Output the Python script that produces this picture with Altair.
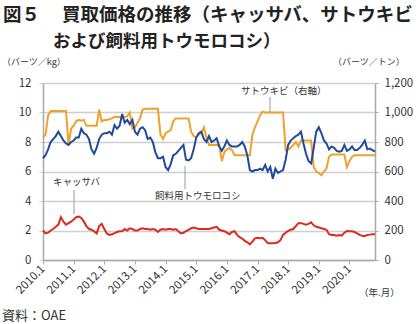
import altair as alt
import pandas as pd

FONT = "Noto Sans CJK JP"

# month categories 2010.1 ... 2020.11
months = [f"{y}.{m}" for y in range(2010, 2021) for m in range(1, 13)][:131]
year_ticks = ["2010.1", "2011.1", "2012.1", "2013.1", "2014.1", "2015.1",
              "2016.1", "2017.1", "2018.1", "2019.1", "2020.1"]

# 飼料用トウモロコシ (バーツ/kg, left axis)
corn = [
    6.9, 7.1, 7.5, 8.0, 8.2, 8.4, 8.7, 8.4, 8.1, 7.9,
    7.8, 8.0, 8.1, 8.3, 8.3, 8.9, 8.6, 8.5, 8.2, 7.5,
    7.2, 7.6, 8.2, 8.5, 8.6, 8.6, 8.7, 8.5, 9.15, 8.9,
    9.1, 9.9, 9.3, 9.5, 9.2, 9.5, 8.7, 8.5, 8.9, 9.0,
    8.8, 8.2, 8.3, 8.0, 7.3, 6.9, 6.9, 7.0, 6.3, 6.1,
    6.5, 7.1, 7.2, 7.4, 7.6, 7.8, 6.8, 6.75, 6.9, 7.5,
    8.3, 8.6, 8.7, 8.2, 8.0, 8.4, 8.0, 8.1, 8.25, 7.7,
    7.4, 7.7, 8.1, 7.8, 7.7, 7.7, 7.7, 7.8, 8.0, 7.7,
    7.1, 6.1, 6.0, 6.1, 6.1, 6.2, 6.1, 6.45, 6.0, 6.3,
    5.5, 6.2, 5.9, 6.0, 6.1, 6.8, 7.8, 8.1, 8.25, 8.4,
    8.5, 8.7, 7.9, 7.2, 6.7, 6.55, 7.6, 8.7, 9.0, 8.6,
    8.1, 7.9, 7.5, 7.7, 7.6, 7.4, 7.35, 7.4, 7.8, 7.4,
    7.5, 7.7, 7.45, 7.45, 7.6, 7.8, 8.1, 7.5, 7.55, 7.45,
    7.35,
]

# サトウキビ (バーツ/トン, right axis)
sugarcane = [
    830, 850, 980, 1010, 1010, 1010, 1010, 1010, 1010, 1010,
    780, 890, 910, 940, 950, 945, 950, 910, 910, 910,
    910, 910, 1020, 940, 950, 950, 955, 960, 970, 970,
    970, 970, 970, 975, 1000, 890, 900, 930, 960, 1020,
    1025, 1025, 1025, 1025, 1025, 1025, 850, 820, 860, 870,
    880, 940, 960, 960, 960, 960, 960, 960, 870, 840,
    830, 850, 860, 900, 830, 780, 780, 780, 780, 780,
    670, 730, 750, 760, 745, 710, 710, 710, 710, 710,
    710, 710, 850, 900, 940, 980, 1005, 1000, 1000, 1000,
    1000, 1000, 1000, 1000, 1000, 745, 750, 760, 780, 800,
    770, 810, 810, 810, 810, 810, 630, 600, 590, 575,
    600, 620, 700, 715, 715, 715, 715, 715, 715, 630,
    670, 700, 710, 710, 710, 710, 710, 710, 710, 710,
    710,
]

# キャッサバ (バーツ/kg, left axis)
cassava = [
    2.0, 1.8, 1.85, 2.0, 2.1, 2.25, 2.4, 2.9, 2.6, 2.4,
    2.5, 2.6, 2.75, 2.9, 2.95, 2.85, 2.6, 2.3, 2.1, 2.05,
    1.95, 1.8, 2.3, 2.45, 2.1, 1.8, 1.7, 1.75, 1.82, 1.9,
    1.95, 1.95, 2.1, 2.0, 2.15, 2.1, 2.0, 2.0, 2.1, 2.15,
    2.1, 2.1, 2.05, 2.1, 2.05, 1.9, 2.05, 2.1, 2.05, 2.1,
    2.1, 2.05, 2.1, 1.95, 1.8, 1.85, 1.95, 2.05, 2.15, 2.2,
    2.15, 2.1, 2.1, 2.1, 2.1, 2.1, 2.15, 2.2, 2.25, 2.05,
    2.0, 1.95, 1.85, 1.75, 1.9, 1.95, 1.7, 1.55, 1.45, 1.3,
    1.2, 1.06, 1.25, 1.47, 1.5, 1.48, 1.5, 1.35, 1.15, 1.13,
    1.13, 1.15, 1.2, 1.35, 1.7, 1.85, 1.97, 2.05, 2.1, 2.3,
    2.5, 2.5, 2.45, 2.4, 2.45, 2.55, 2.35, 2.25, 2.2, 2.15,
    2.1, 2.05, 1.75, 1.7, 1.7, 1.65, 1.7, 1.65, 1.85, 1.97,
    1.95, 1.95, 1.9, 1.8, 1.7, 1.65, 1.62, 1.7, 1.72, 1.75,
    1.75,
]

left_ticks = [0, 2, 4, 6, 8, 10, 12]
right_ticks = [0, 200, 400, 600, 800, 1000, 1200]

BLUE = "#1f4a9c"
ORANGE = "#f0a12c"
RED = "#dc2a1e"
GRID = "#cfcfcf"
AXIS = "#a8a8a8"
TXT = "#333333"

df = pd.DataFrame({"month": months, "corn": corn,
                   "sugarcane": sugarcane, "cassava": cassava})

x_enc = alt.X("month:O", sort=None,
              scale=alt.Scale(type="point", padding=0, domain=months),
              axis=alt.Axis(values=year_ticks, labelAngle=-45, labelAlign="right",
                            labelBaseline="middle", labelPadding=3, labelFontSize=11.5,
                            tickSize=4, tickColor=AXIS, domainColor=AXIS, domainWidth=1.5,
                            grid=False, title=None, labelColor=TXT, labelFont=FONT))

base = alt.Chart(df)

orange = base.mark_line(color=ORANGE, strokeWidth=2).encode(
    x=x_enc,
    y=alt.Y("sugarcane:Q", scale=alt.Scale(domain=[0, 1200]),
            axis=alt.Axis(orient="right", values=right_ticks, format=",.0f", grid=False,
                          title=None, tickSize=3, tickColor=AXIS, domainColor=AXIS,
                          domainWidth=1.5, labelPadding=6, labelFontSize=11.5,
                          labelColor=TXT, labelFont=FONT)))

blue = base.mark_line(color=BLUE, strokeWidth=2).encode(
    x=x_enc,
    y=alt.Y("corn:Q", scale=alt.Scale(domain=[0, 12]),
            axis=alt.Axis(orient="left", values=left_ticks, grid=True, gridColor=GRID,
                          gridWidth=1.5, title=None, tickSize=4, tickColor=GRID,
                          domainColor=AXIS, domainWidth=1.5, labelPadding=8,
                          labelFontSize=11.5, labelColor=TXT, labelFont=FONT)))

red = base.mark_line(color=RED, strokeWidth=2).encode(
    x=x_enc,
    y=alt.Y("cassava:Q", scale=alt.Scale(domain=[0, 12]), axis=None))

one = pd.DataFrame({"a": [0]})


def label(text, x, y, size, align="left", weight="normal"):
    return alt.Chart(one).mark_text(
        text=text, font=FONT, fontSize=size, align=align, baseline="middle",
        color=TXT if weight == "normal" else "#222222", fontWeight=weight
    ).encode(x=alt.value(x), y=alt.value(y))


def leader(x, y1, y2):
    return alt.Chart(one).mark_rule(color="#999999", strokeWidth=1).encode(
        x=alt.value(x), y=alt.value(y1), y2=alt.value(y2))


texts = [
    label("図５", -40, -68, 18.5, weight="bold"),
    label("買取価格の推移（キャッサバ、サトウキビ", 19, -68, 18.5, weight="bold"),
    label("および飼料用トウモロコシ）", 10, -41, 17.5, weight="bold"),
    label("（バーツ／kg）", -41, -21, 9),
    label("（バーツ／トン）", 290, -21, 9),
    label("サトウキビ（右軸）", 198, 8, 9.5),
    label("キャッサバ", 10, 99, 9.5),
    label("飼料用トウモロコシ", 112, 113, 9.5),
    label("（年.月）", 316, 210, 9.5),
    label("資料：OAE", -41, 233, 13),
]
leaders = [leader(227, 14, 29), leader(31, 107, 131), leader(142, 83, 106)]

chart = alt.layer(orange, blue, red, *leaders, *texts).resolve_scale(
    y="independent"
).properties(
    width=332, height=177,
    padding={"left": 43, "top": 83, "right": 45, "bottom": 64},
    autosize=alt.AutoSizeParams(type="none"),
    background="white",
).configure_view(stroke=None)

chart.save("out.html", embed_options={"renderer": "svg", "actions": False})
